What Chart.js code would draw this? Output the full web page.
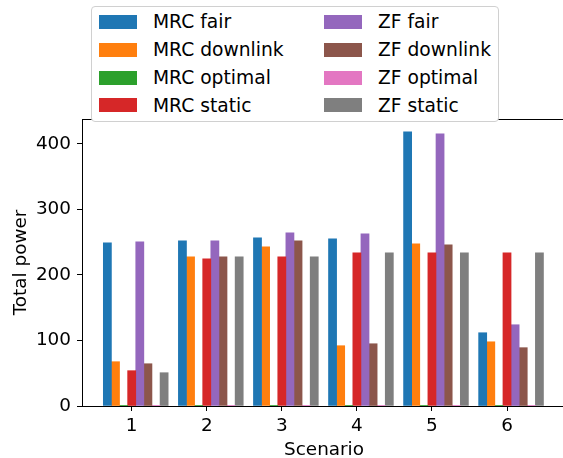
<!DOCTYPE html>
<html>
<head>
<meta charset="utf-8">
<script src="https://cdn.jsdelivr.net/npm/chart.js@4/dist/chart.umd.min.js"></script>
<style>
  html, body { margin: 0; padding: 0; background: #fff; overflow: hidden; width: 563px; height: 458px; }
  #wrap { position: absolute; left: 0; top: 0; width: 568px; height: 458px; }
  #legend {
    position: absolute; left: 91px; top: 6px; width: 406px; height: 114px;
    border: 1px solid #d0d0d0; border-radius: 4px; background: #fff;
    font-family: "DejaVu Sans", sans-serif; font-size: 18.7px; color: #000;
  }
  .item { position: absolute; height: 28px; display: flex; align-items: center; white-space: nowrap; }
  .patch { width: 38px; height: 14px; margin-right: 16px; flex: none; }
</style>
</head>
<body>
<div id="wrap"><canvas id="c" width="568" height="458"></canvas></div>
<div id="legend"></div>
<script>
const scenarios = [1, 2, 3, 4, 5, 6];
const seriesNames = ["MRC fair", "MRC downlink", "MRC optimal", "MRC static", "ZF fair", "ZF downlink", "ZF optimal", "ZF static"];
const seriesColors = ["#1f77b4", "#ff7f0e", "#2ca02c", "#d62728", "#9467bd", "#8c564b", "#e377c2", "#7f7f7f"];
const mrcFair     = [249, 252, 256.7, 255, 418.3, 111.8];
const mrcDownlink = [67.6, 227.7, 243, 92, 247.5, 98];
const mrcOptimal  = [1, 1, 1, 1, 1, 1];
const mrcStatic   = [53.9, 224.6, 227.7, 233.8, 233.8, 233.8];
const zfFair      = [250.6, 252, 264.3, 262.8, 415.2, 124];
const zfDownlink  = [64.5, 227.7, 252.1, 95, 246, 89];
const zfOptimal   = [1, 1, 1, 1, 1, 1];
const zfStatic    = [50.8, 227.7, 227.7, 233.8, 233.8, 233.8];
const yTicks = [0, 100, 200, 300, 400];
const xTickLabels = ["1", "2", "3", "4", "5", "6"];

const seriesValues = [mrcFair, mrcDownlink, mrcOptimal, mrcStatic, zfFair, zfDownlink, zfOptimal, zfStatic];
const barW = 0.108;
const FONT = "'DejaVu Sans', sans-serif";

const datasets = seriesValues.map((vals, k) => ({
  label: seriesNames[k],
  backgroundColor: seriesColors[k],
  borderWidth: 0,
  grouped: false,
  barThickness: 8.1,
  data: scenarios.map((s, i) => ({ x: s + (k - 3) * barW, y: vals[i] }))
}));

const topSpine = {
  id: 'topSpine',
  afterDraw(chart) {
    const a = chart.chartArea, ctx = chart.ctx;
    ctx.save();
    ctx.strokeStyle = '#000';
    ctx.lineWidth = 1;
    ctx.beginPath();
    const y = Math.round(a.top) + 0.5;
    ctx.moveTo(a.left, y);
    ctx.lineTo(a.right, y);
    ctx.stroke();
    ctx.restore();
  }
};

new Chart(document.getElementById('c'), {
  type: 'bar',
  data: { datasets },
  plugins: [topSpine],
  options: {
    responsive: false,
    animation: false,
    events: [],
    layout: { padding: { top: 119, left: 0, right: 2, bottom: 0 } },
    plugins: { legend: { display: false }, tooltip: { enabled: false } },
    scales: {
      x: {
        type: 'linear',
        offset: false,
        min: 0.338,
        max: 6.786,
        afterFit(s) { s.height = 52; },
        afterBuildTicks(s) { s.ticks = scenarios.map(v => ({ value: v })); },
        ticks: {
          autoSkip: false,
          maxRotation: 0,
          color: '#000',
          padding: 4,
          font: { family: FONT, size: 18.4 },
          callback: (v) => { const i = scenarios.indexOf(v); return i >= 0 ? xTickLabels[i] : ''; }
        },
        grid: { display: true, drawOnChartArea: false, drawTicks: true, tickLength: 5, tickColor: '#000', offset: false },
        border: { display: true, color: '#000', width: 1 },
        title: { display: true, text: 'Scenario', color: '#000', font: { family: FONT, size: 18.4 }, padding: { top: 0, bottom: -3 } }
      },
      y: {
        min: 0,
        max: 438,
        afterFit(s) { s.width = 82; },
        afterBuildTicks(s) { s.ticks = yTicks.map(v => ({ value: v })); },
        ticks: {
          color: '#000',
          padding: 6,
          font: { family: FONT, size: 18.4 },
          callback: (v) => String(v)
        },
        grid: { display: true, drawOnChartArea: false, drawTicks: true, tickLength: 5, tickColor: '#000' },
        border: { display: true, color: '#000', width: 1 },
        title: { display: true, text: 'Total power', color: '#000', font: { family: FONT, size: 18.4 }, padding: { top: 10, bottom: 0 } }
      }
    }
  }
});

const legend = document.getElementById('legend');
const order = [[0, 1, 2, 3], [4, 5, 6, 7]];
const colLeft = [7, 232];
order.forEach((col, c) => {
  col.forEach((k, r) => {
    const it = document.createElement('div');
    it.className = 'item';
    it.style.left = colLeft[c] + 'px';
    it.style.top = (0.7 + r * 27.9) + 'px';
    const p = document.createElement('div');
    p.className = 'patch';
    p.style.background = seriesColors[k];
    const t = document.createElement('span');
    t.textContent = seriesNames[k];
    it.appendChild(p); it.appendChild(t);
    legend.appendChild(it);
  });
});
</script>
</body>
</html>
